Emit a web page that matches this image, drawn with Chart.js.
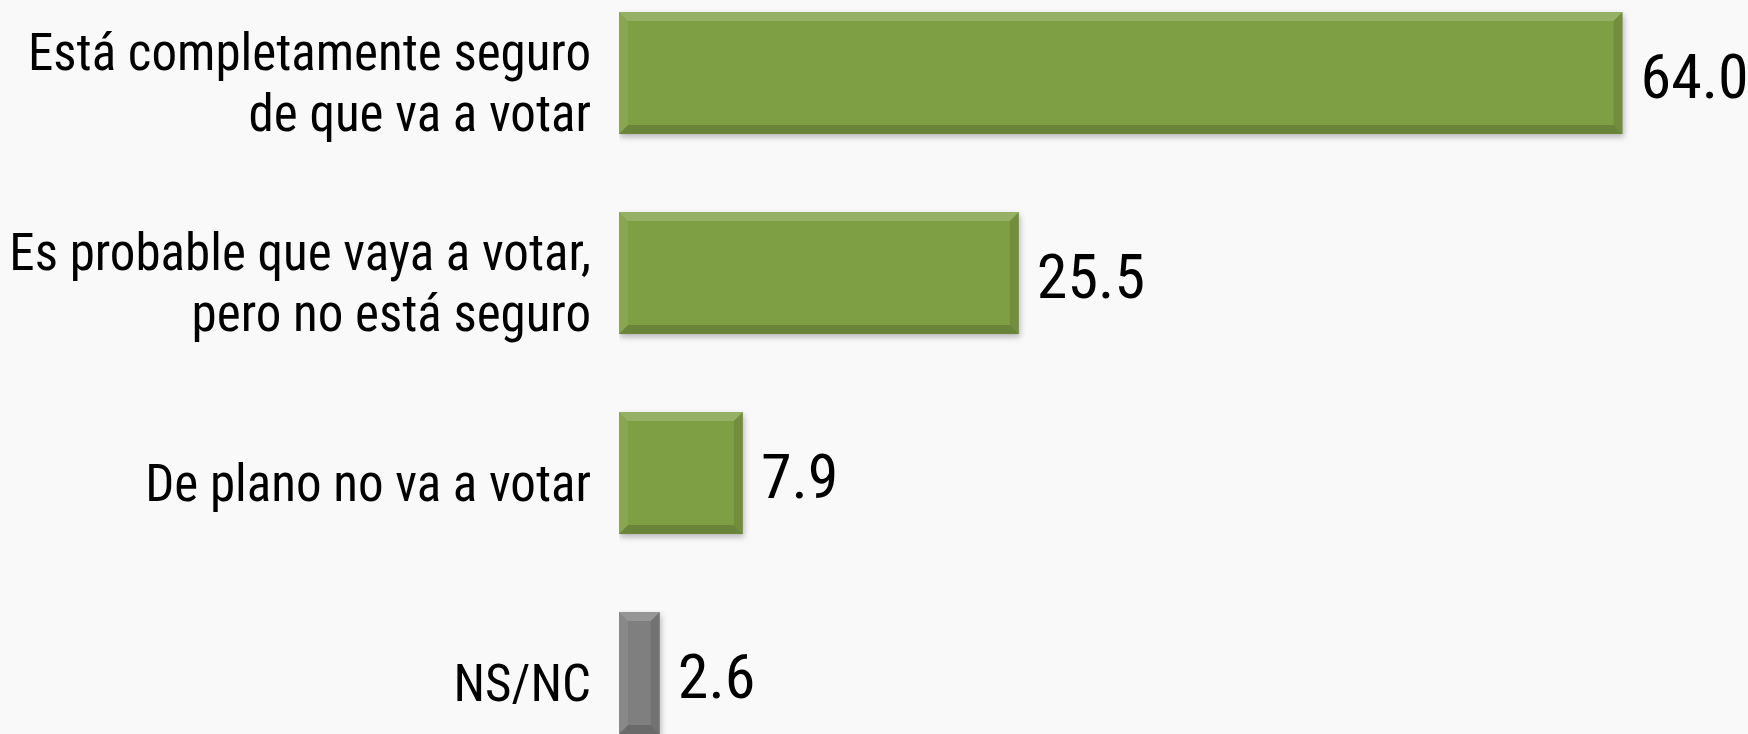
<!DOCTYPE html>
<html>
<head>
<meta charset="utf-8">
<script src="https://cdn.jsdelivr.net/npm/chart.js@4.4.1/dist/chart.umd.min.js"></script>
<style>
  html, body { margin: 0; padding: 0; width: 1748px; height: 734px; overflow: hidden; background: #f9f9f9; }
  #wrap { position: absolute; left: 0; top: -27px; width: 1748px; height: 800px; }
</style>
</head>
<body>
<div id="wrap"><canvas id="chart"></canvas></div>
<script>
// categorías y valores (%)
const categories = [
  ["Está completamente seguro", "de que va a votar"],
  ["Es probable que vaya a votar,", "pero no está seguro"],
  "De plano no va a votar",
  "NS/NC"
];
const values = [64.0, 25.5, 7.9, 2.6];
const barColors = ["#7f9f45", "#7f9f45", "#7f9f45", "#7f7f7f"];

const fontFamily = "'Roboto Condensed', 'Liberation Sans', Arial, sans-serif";

// sombra suave bajo las barras
const barShadow = {
  id: "barShadow",
  beforeDatasetsDraw(chart) {
    const ctx = chart.ctx;
    ctx.save();
    ctx.shadowColor = "rgba(0,0,0,0.28)";
    ctx.shadowBlur = 6;
    ctx.shadowOffsetX = 1;
    ctx.shadowOffsetY = 3;
  },
  afterDatasetsDraw(chart) {
    chart.ctx.restore();
  }
};

// efecto bisel simple sobre las barras
const bevel = {
  id: "bevel",
  afterDatasetsDraw(chart) {
    const ctx = chart.ctx;
    const meta = chart.getDatasetMeta(0);
    const b = 9;
    ctx.save();
    meta.data.forEach((bar) => {
      const l = bar.base, r = bar.x, t = bar.y - bar.height / 2, btm = bar.y + bar.height / 2;
      ctx.fillStyle = "rgba(255,255,255,0.18)";
      ctx.beginPath();
      ctx.moveTo(l, t); ctx.lineTo(r, t); ctx.lineTo(r - b, t + b); ctx.lineTo(l + b, t + b); ctx.closePath(); ctx.fill();
      ctx.fillStyle = "rgba(255,255,255,0.08)";
      ctx.beginPath();
      ctx.moveTo(l, t); ctx.lineTo(l + b, t + b); ctx.lineTo(l + b, btm - b); ctx.lineTo(l, btm); ctx.closePath(); ctx.fill();
      ctx.fillStyle = "rgba(0,0,0,0.16)";
      ctx.beginPath();
      ctx.moveTo(l, btm); ctx.lineTo(l + b, btm - b); ctx.lineTo(r - b, btm - b); ctx.lineTo(r, btm); ctx.closePath(); ctx.fill();
      ctx.fillStyle = "rgba(0,0,0,0.10)";
      ctx.beginPath();
      ctx.moveTo(r, t); ctx.lineTo(r, btm); ctx.lineTo(r - b, btm - b); ctx.lineTo(r - b, t + b); ctx.closePath(); ctx.fill();
    });
    ctx.restore();
  }
};

// etiquetas de valor al final de cada barra
const valueLabels = {
  id: "valueLabels",
  afterDatasetsDraw(chart) {
    const ctx = chart.ctx;
    const meta = chart.getDatasetMeta(0);
    ctx.save();
    ctx.font = "62px " + fontFamily;
    ctx.fillStyle = "#000";
    ctx.textAlign = "left";
    ctx.textBaseline = "middle";
    meta.data.forEach((bar, i) => {
      ctx.fillText(values[i].toFixed(1), bar.x + 18, bar.y + 9);
    });
    ctx.restore();
  }
};

new Chart(document.getElementById("chart"), {
  type: "bar",
  data: {
    labels: categories,
    datasets: [{
      data: values,
      backgroundColor: barColors,
      borderWidth: 0,
      barPercentage: 0.61,
      categoryPercentage: 1.0
    }]
  },
  options: {
    indexAxis: "y",
    responsive: true,
    maintainAspectRatio: false,
    animation: false,
    layout: { padding: 0 },
    plugins: {
      legend: { display: false },
      tooltip: { enabled: false }
    },
    scales: {
      x: {
        display: false,
        min: 0,
        max: 72
      },
      y: {
        grid: { display: false, drawTicks: false },
        border: { display: false },
        ticks: {
          color: "#000",
          padding: 28,
          labelOffset: 15,
          font: { family: fontFamily, size: 51, lineHeight: 1.2 }
        },
        afterFit(scale) {
          scale.width = 619;
          scale.paddingTop = 0;
          scale.paddingBottom = 0;
        }
      }
    }
  },
  plugins: [barShadow, bevel, valueLabels]
});
</script>
</body>
</html>
